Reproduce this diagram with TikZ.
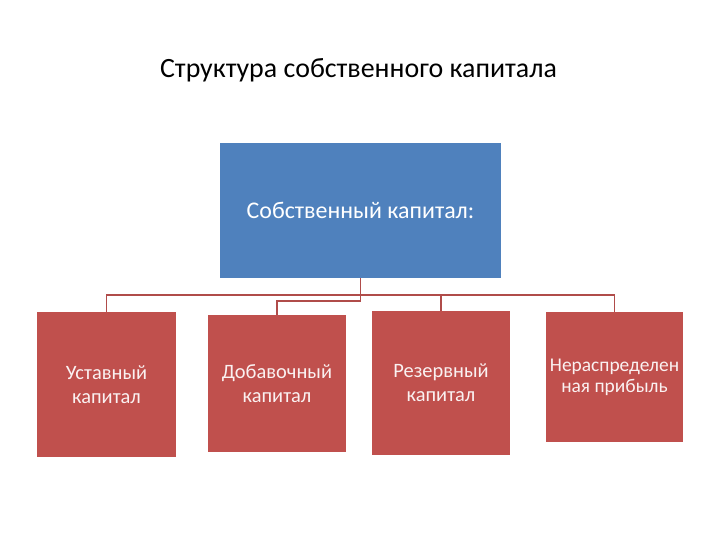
\documentclass[tikz,border=0pt]{standalone}
\usepackage{fontspec}
\setmainfont{Carlito}
\usepackage{xcolor}
\usetikzlibrary{positioning,calc}
\definecolor{capblue}{RGB}{79,129,189}
\definecolor{partred}{RGB}{192,80,77}
\definecolor{linkred}{RGB}{176,76,74}
\tikzset{
    topbox/.style={fill=capblue, text=white, minimum width=281bp, minimum height=135bp, font=\fontsize{24}{28}\selectfont},
    partbox/.style={fill=partred, text=white!92!partred, align=center, font=\fontsize{20.5}{24}\selectfont},
    link/.style={linkred, line width=1.5pt}
}
\begin{document}
\begin{tikzpicture}[x=1bp, y=-1bp]
    \useasboundingbox (0,0) rectangle (720,540);
    % Title
    \node (title) at (358.5,70) {\fontsize{28}{32}\selectfont Структура собственного капитала};
    % Top box
    \node[topbox] (cap) at (360.5,210.5) {Собственный капитал:};
    % Parts
    \node[partbox, minimum width=139bp, minimum height=145bp] (ustav) at (106.5,384.5) {Уставный\\капитал};
    \node[partbox, minimum width=138bp, minimum height=137bp] (dob) at (277,383.5) {Добавочный\\капитал};
    \node[partbox, minimum width=138bp, minimum height=144bp] (rez) at (441,383) {Резервный\\капитал};
    \node[partbox, minimum width=137bp, minimum height=130bp, font=\fontsize{19.5}{21}\selectfont] (nerasp) at (614.5,377) {Нераспределен\\ная прибыль};
    % Connectors
    \coordinate (busA) at (cap.south |- 0,295);
    \coordinate (busB) at (cap.south |- 0,301);
    \draw[link] (cap.south) -- (busB);
    \draw[link] (busA) -| (ustav.north);
    \draw[link] (busA) -| (rez.north);
    \draw[link] (busA) -| (nerasp.north);
    \draw[link] (busB) -| (dob.north);
\end{tikzpicture}
\end{document}
